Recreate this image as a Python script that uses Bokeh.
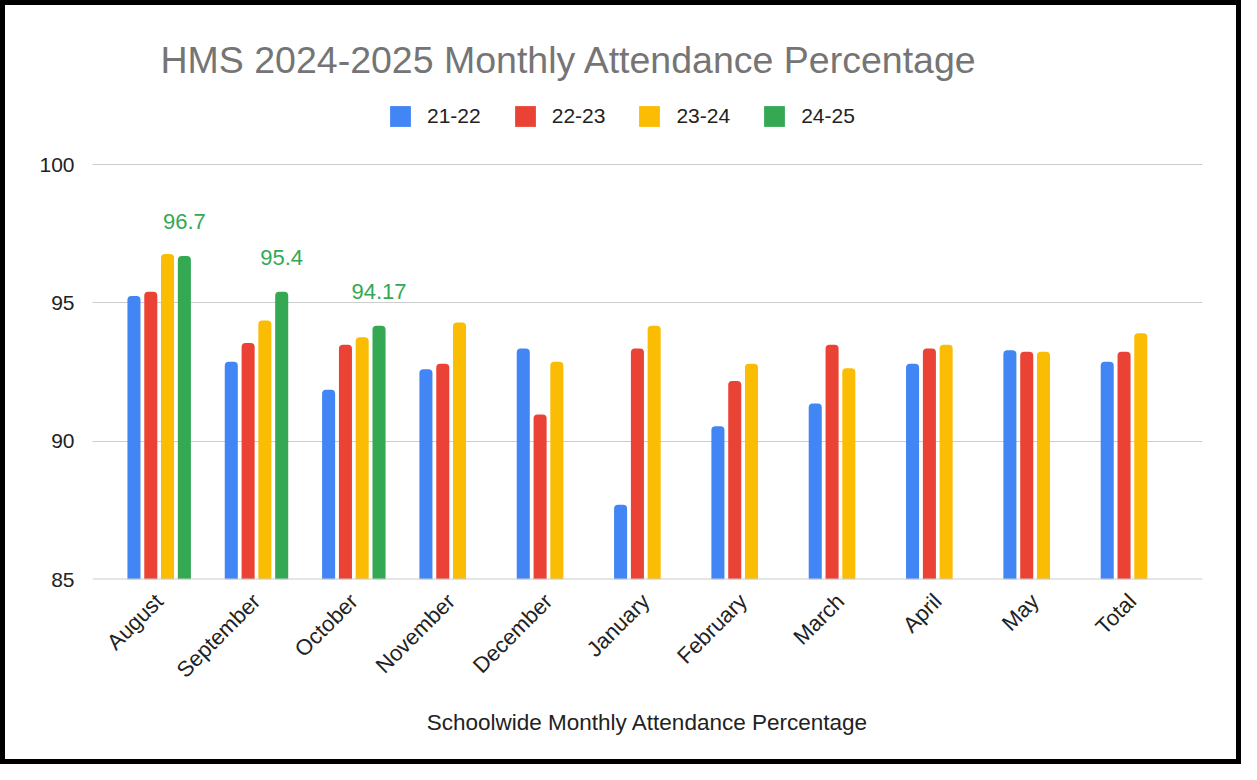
import math
from bokeh.plotting import figure
from bokeh.models import (ColumnDataSource, FixedTicker, Legend, LegendItem,
                          Label, LabelSet, Span)
from bokeh.transform import dodge
from bokeh.core.properties import value
from bokeh.embed import file_html
from bokeh.resources import INLINE

# ---------------- data ----------------
months = ["August", "September", "October", "November", "December",
          "January", "February", "March", "April", "May", "Total"]
s_21_22 = [95.25, 92.87, 91.86, 92.60, 93.35, 87.70, 90.54, 91.36, 92.80, 93.29, 92.87]
s_22_23 = [95.40, 93.55, 93.49, 92.80, 90.97, 93.35, 92.18, 93.49, 93.35, 93.23, 93.23]
s_23_24 = [96.77, 94.36, 93.76, 94.29, 92.87, 94.17, 92.80, 92.64, 93.49, 93.23, 93.90]
s_24_25 = [96.7, 95.4, 94.17]
series_names = ["21-22", "22-23", "23-24", "24-25"]
y_ticks = [85, 90, 95, 100]

title_text = "HMS 2024-2025 Monthly Attendance Percentage"
x_title = "Schoolwide Monthly Attendance Percentage"

# ---------------- styles ----------------
colors = ["#4285f4", "#ea4335", "#fbbc04", "#34a853"]
FONT = "Liberation Sans"
offsets = [-0.259, -0.086, 0.086, 0.259]
bar_w = 0.134

# frame: 85 -> 100 spans 415 px; frame extended upward to hold title & legend
p = figure(width=1241, height=764, output_backend="svg", toolbar_location=None,
           x_range=(-0.685, 10.72), y_range=(85, 105.03),
           min_border_left=87, min_border_right=44, min_border_top=20,
           min_border_bottom=190)
p.styles = {"border": "5px solid black"}
p.outline_line_color = None
p.background_fill_color = "white"
p.border_fill_color = "white"

series = [s_21_22, s_22_23, s_23_24, s_24_25]
renderers = []
for vals, name, col, off in zip(series, series_names, colors, offsets):
    src = ColumnDataSource(dict(x=list(range(len(vals))), v=vals,
                                m=months[:len(vals)]))
    r = p.vbar(x=dodge("x", off), top="v", bottom=y_ticks[0], width=bar_w,
               fill_color=col, line_color=None, border_radius=(4, 4, 0, 0),
               source=src)
    renderers.append(r)

# data labels for 24-25
lab_src = ColumnDataSource(dict(x=list(range(len(s_24_25))), v=s_24_25,
                                t=[str(v) for v in s_24_25]))
p.add_layout(LabelSet(x=dodge("x", offsets[3]), y="v", text="t", source=lab_src,
                      y_offset=27, text_align="center", text_baseline="alphabetic",
                      text_font=value(FONT), text_font_size="22px",
                      text_color="#34a853"))

# axes
p.yaxis.ticker = FixedTicker(ticks=y_ticks)
p.yaxis.axis_line_color = None
p.yaxis.major_tick_line_color = None
p.yaxis.minor_tick_line_color = None
p.yaxis.major_label_standoff = 12
p.yaxis.major_label_text_font = FONT
p.yaxis.major_label_text_font_size = "21px"
p.yaxis.major_label_text_color = "#222222"

p.xaxis.ticker = FixedTicker(ticks=list(range(len(months))))
p.xaxis.major_label_overrides = {i: m for i, m in enumerate(months)}
p.xaxis.major_label_orientation = math.pi / 4
p.xaxis.axis_line_color = None
p.xaxis.major_tick_line_color = None
p.xaxis.minor_tick_line_color = None
p.xaxis.major_label_standoff = 12
p.xaxis.major_label_text_font = FONT
p.xaxis.major_label_text_font_size = "22px"
p.xaxis.major_label_text_color = "#222222"
p.xaxis.axis_label = x_title
p.xaxis.axis_label_text_font = FONT
p.xaxis.axis_label_text_font_size = "22.5px"
p.xaxis.axis_label_text_font_style = "normal"
p.xaxis.axis_label_text_color = "#222222"
p.xaxis.axis_label_standoff = 16

p.xgrid.grid_line_color = None
p.ygrid.ticker = FixedTicker(ticks=y_ticks)
p.ygrid.grid_line_color = "#cccccc"
p.ygrid.grid_line_width = 1
p.add_layout(Span(location=y_ticks[0], dimension="width", line_color="#cccccc",
                  line_width=2))

# title
p.add_layout(Label(x=68, y=520, x_units="screen", y_units="screen", text=title_text,
                   text_font=FONT, text_font_size="37.5px", text_color="#757575",
                   text_baseline="alphabetic"))

# legend
legend = Legend(items=[LegendItem(label=n, renderers=[r]) for n, r in zip(series_names, renderers)],
                orientation="horizontal", location=(295, 450),
                glyph_width=26, glyph_height=26, label_height=26,
                label_standoff=14, spacing=31, padding=0, margin=0,
                border_line_color=None, background_fill_alpha=0,
                label_text_font=FONT, label_text_font_size="21px",
                label_text_color="#222222")
p.add_layout(legend)

open("out.html", "w").write(file_html(p, INLINE))
